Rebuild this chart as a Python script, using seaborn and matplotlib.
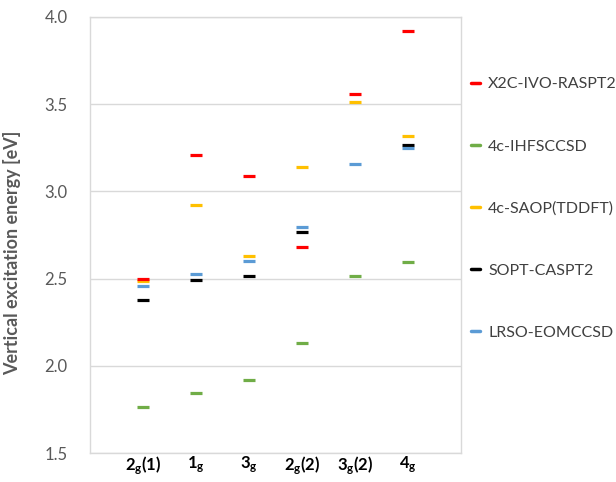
import numpy as np
import pandas as pd
import matplotlib
matplotlib.use("Agg")
import matplotlib.pyplot as plt
from matplotlib.lines import Line2D
import seaborn as sns

states = ["2g(1)", "1g", "3g", "2g(2)", "3g(2)", "4g"]
state_labels = [r"$\mathbf{2_{g}(1)}$", r"$\mathbf{1_{g}}$", r"$\mathbf{3_{g}}$",
                r"$\mathbf{2_{g}(2)}$", r"$\mathbf{3_{g}(2)}$", r"$\mathbf{4_{g}}$"]
methods = ["X2C-IVO-RASPT2", "4c-IHFSCCSD", "4c-SAOP(TDDFT)", "SOPT-CASPT2", "LRSO-EOMCCSD"]

x2c_ivo_raspt2 = [2.50, 3.21, 3.09, 2.68, 3.56, 3.92]
c4_ihfsccsd = [1.765, 1.847, 1.92, 2.133, 2.513, 2.595]
c4_saop = [2.488, 2.92, 2.63, 3.14, 3.51, 3.32]
sopt_caspt2 = [2.38, 2.494, 2.513, 2.767, np.nan, 3.263]
lrso_eomccsd = [2.455, 2.525, 2.60, 2.794, 3.155, 3.246]

colors = ["#ff0000", "#70ad47", "#ffc000", "#000000", "#5b9bd5"]

series = [x2c_ivo_raspt2, c4_ihfsccsd, c4_saop, sopt_caspt2, lrso_eomccsd]
rows = []
for m, vals in zip(methods, series):
    for s, v in zip(states, vals):
        rows.append({"state": s, "method": m, "energy": v})
df = pd.DataFrame(rows).dropna()

sns.set_style("white")
plt.rcParams["font.family"] = ["Lato", "DejaVu Sans"]
plt.rcParams["mathtext.fontset"] = "custom"
plt.rcParams["mathtext.rm"] = "Lato"
plt.rcParams["mathtext.bf"] = "Lato:bold"
plt.rcParams["mathtext.it"] = "Lato:italic"

fig = plt.figure(figsize=(6.16, 4.82), dpi=100)
ax = fig.add_axes([0.146, 0.06, 0.602, 0.905])

order_draw = ["4c-IHFSCCSD", "4c-SAOP(TDDFT)", "X2C-IVO-RASPT2", "SOPT-CASPT2", "LRSO-EOMCCSD"]
pal = dict(zip(methods, colors))
df["xpos"] = df["state"].map({s: i for i, s in enumerate(states)})
for m in order_draw:
    sub = df[df["method"] == m]
    sns.scatterplot(data=sub, x="xpos", y="energy", color=pal[m], marker="_",
                    s=64, linewidth=2.3, ax=ax, legend=False, zorder=3)

ax.set_xlim(-1, 6)
ax.set_ylim(1.5, 4.0)
ax.set_yticks([1.5, 2.0, 2.5, 3.0, 3.5, 4.0])
ax.set_yticklabels(["1.5", "2.0", "2.5", "3.0", "3.5", "4.0"])
ax.set_xticks(range(len(states)))
ax.set_xticklabels(state_labels)
ax.tick_params(axis="y", length=0, pad=16, labelsize=12, labelcolor="#595959")
ax.tick_params(axis="x", length=0, pad=1, labelsize=12, labelcolor="#000000")
ax.yaxis.grid(True, color="#d9d9d9", linewidth=1)
ax.set_axisbelow(True)
for sp in ax.spines.values():
    sp.set_visible(True)
    sp.set_color("#d9d9d9")
    sp.set_linewidth(1)
ax.set_xlabel("")
ax.set_ylabel("Vertical excitation energy [eV]", fontsize=13, fontweight="bold",
              color="#595959")
ax.yaxis.set_label_coords(-0.185, 0.459)

handles = [Line2D([0], [0], color=c, linewidth=2.5) for c in colors]
leg = fig.legend(handles, methods, loc="upper left", bbox_to_anchor=(0.755, 0.853),
                 frameon=False, fontsize=11.5, handlelength=0.55, handletextpad=0.5,
                 labelspacing=3.0, borderaxespad=0)
for t in leg.get_texts():
    t.set_color("#404040")

fig.savefig("out.png", dpi=100)
